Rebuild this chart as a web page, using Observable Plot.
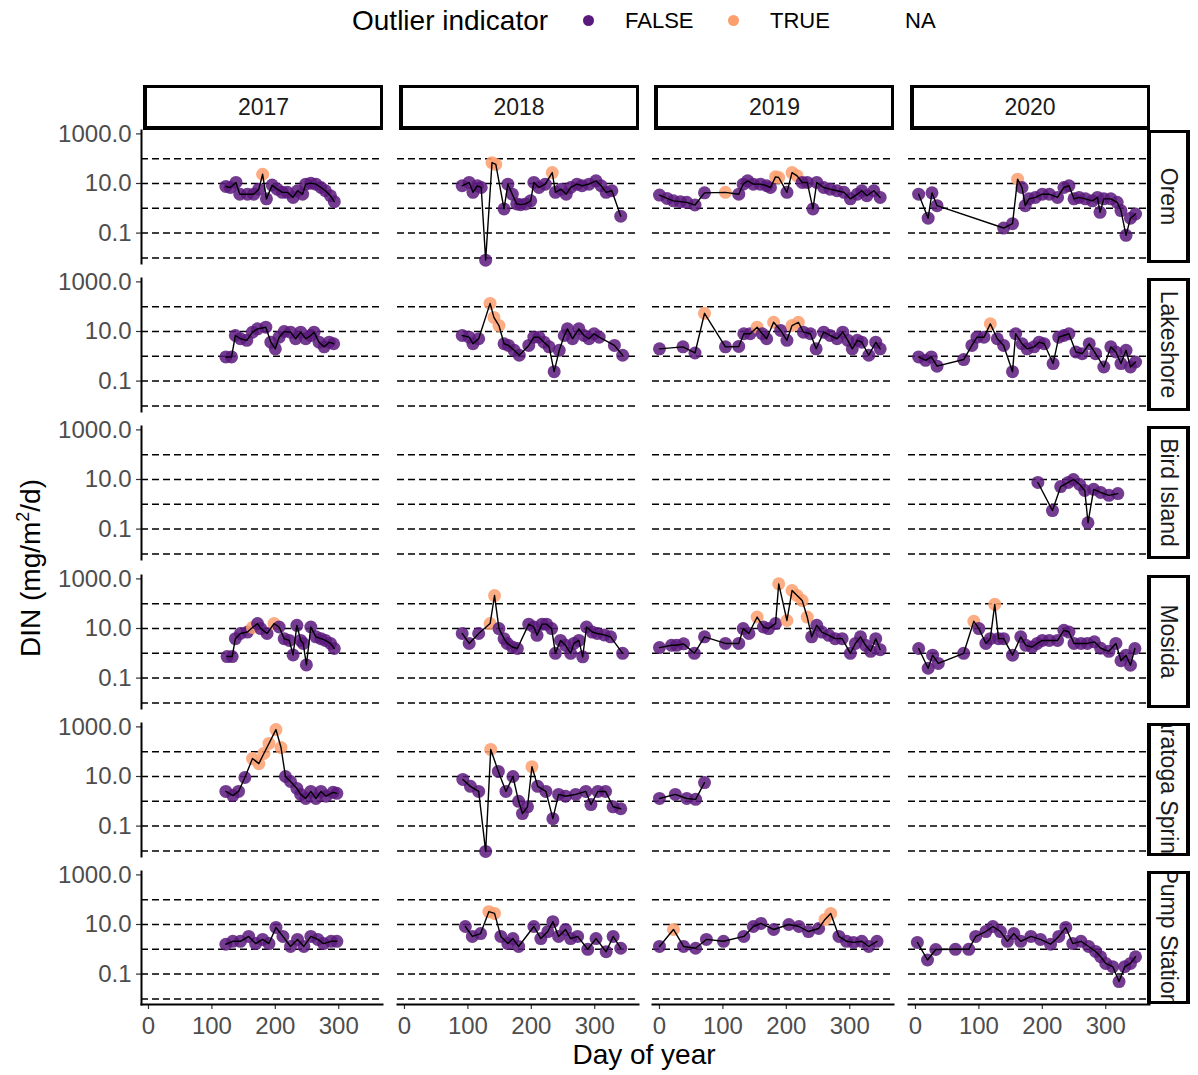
<!DOCTYPE html>
<html>
<head>
<meta charset="utf-8">
<script src="https://cdn.jsdelivr.net/npm/d3@7"></script>
<script src="https://cdn.jsdelivr.net/npm/@observablehq/plot@0.6"></script>
<style>
  body { margin: 0; background: #fff; font-family: "Liberation Sans", Arial, sans-serif; }
  #root { position: relative; width: 1198px; height: 1075px; overflow: hidden; }
  .abs { position: absolute; }
  .strip { position: absolute; box-sizing: border-box; border: 3px solid #000; background: #fff;
           display: flex; align-items: center; justify-content: center; overflow: hidden;
           font-size: 23px; color: #1a1a1a; }
  .strip.top { border-left-width: 4px; border-bottom-width: 4px; }
  .strip.side { border-left-width: 4px; border-right-width: 4px; }
  .strip.side span { transform: rotate(90deg); white-space: nowrap; }
  .legend-text { position: absolute; white-space: nowrap; color: #000; }
  .legend-dot { position: absolute; width: 11px; height: 11px; border-radius: 50%; }
</style>
</head>
<body>
<div id="root"></div>
<script>
// ---- Data: daily DIN flux (mg/m²/d) by site and year; entries are [day of year, DIN, outlier flag]
const years = [2017, 2018, 2019, 2020];
const sites = ["Orem", "Lakeshore", "Bird Island", "Mosida", "Saratoga Springs", "Pump Station"];
const outlierLevels = ["FALSE", "TRUE"];
const yTicks = [1000, 10, 0.1];
const xTicks = [0, 100, 200, 300];
const refLines = [100, 10, 1, 0.1, 0.01];

const orem2017 = [[122,7.6],[129,6.9],[138,11],[144,3.7],[156,3.7],[166,3.7],[174,5.9],[180,23.6,1],[186,2.4],[195,8.6],[203,5.9],[211,4.4],[219,4.4],[228,2.75],[235,5.1],[243,3.7],[248,9.4],[256,10.3],[264,9.4],[272,6.9],[279,5.1],[287,3.2],[293,1.85]];
const orem2018 = [[91,8.1],[102,11],[108,4.4],[115,8.1],[121,6.9],[128,0.0081],[138,69,1],[144,59,1],[157,0.94],[163,9.4],[170,3.7],[177,1.5],[183,1.4],[191,1.5],[199,2.0],[204,11],[212,6.9],[222,9.4],[233,27.5,1],[238,4.4],[247,5.9],[255,3.7],[262,6.9],[272,9.4],[280,8.1],[291,9.4],[302,12.8],[310,8.1],[318,4.4],[327,5.1],[341,0.48]];
const orem2019 = [[0,3.4],[12,2.5],[22,2.0],[33,1.85],[43,1.74],[56,1.36],[71,4.2],[104,4.4,1],[125,3.7],[132,9.4],[139,12.8],[148,9.4],[159,9.4],[169,8.1],[175,6.9],[183,18.5,1],[188,17.4,1],[201,4.4],[209,27.5,1],[217,20.3,1],[225,11],[233,11],[242,0.94],[248,11],[259,6.9],[269,5.9],[280,5.1],[291,4.4],[301,2.4],[312,3.7],[319,5.1],[327,3.2],[338,5.1],[348,2.75]];
const orem2020 = [[5,3.7],[20,0.4],[26,4.2],[34,1.28],[139,0.16],[153,0.24],[161,14.9,1],[168,6.9],[173,1.28],[179,2.4],[189,2.75],[200,3.7],[211,3.7],[224,2.75],[234,6.9],[242,8.1],[250,2.4],[258,2.75],[268,2.4],[279,2.0],[287,2.75],[291,0.69],[297,2.4],[308,2.4],[318,1.74],[324,0.81],[332,0.081],[339,0.4],[347,0.59]];

const lakeshore2017 = [[122,0.94],[131,0.94],[137,6.9],[145,5.1],[155,4.4],[164,9.4],[172,12.8],[185,14.9],[193,3.7],[200,2.0],[206,5.9],[214,10],[224,9.4],[232,5.1],[240,9.4],[248,5.1],[256,6.9],[261,9.4],[269,3.7],[277,2.4],[285,3.7],[292,3.2]];
const lakeshore2018 = [[91,6.9],[102,5.9],[108,3.2],[117,5.1],[135,136,1],[141,37,1],[149,17.4,1],[157,3.2],[164,2.75],[173,1.74],[181,1.1],[196,2.75],[204,5.9],[212,5.9],[220,3.7],[228,2.4],[236,0.24],[244,1.74],[252,6.9],[257,12.8],[265,5.1],[275,12.8],[283,6.9],[291,5.1],[299,8.1],[307,5.9],[331,2.75],[344,1.1]];
const lakeshore2019 = [[0,2.0],[37,2.4],[56,1.36],[71,54,1],[104,2.4],[125,2.5],[133,8.1],[143,8.1],[154,14.9,1],[162,8.1],[169,5.1],[180,23.6,1],[191,11],[201,4.4],[209,17.4,1],[219,23.6,1],[227,9.4],[238,8.1],[247,2.0],[259,9.4],[269,6.9],[280,5.1],[289,9.4],[297,4.4],[304,2.0],[312,4.4],[319,3.7],[330,1.1],[341,3.7],[348,2.0]];
const lakeshore2020 = [[5,0.94],[16,0.69],[25,0.94],[34,0.4],[76,0.74],[89,2.75],[97,5.9],[108,5.9],[118,20.3,1],[129,5.1],[139,2.75],[153,0.24],[158,8.1],[168,3.2],[176,2.0],[187,2.4],[195,3.7],[203,3.2],[217,0.51],[226,5.9],[234,6.9],[242,8.1],[253,1.49],[263,1.28],[274,3.2],[284,1.28],[297,0.37],[308,2.4],[316,1.49],[324,0.51],[332,1.74],[339,0.37],[347,0.59]];

const birdIsland2020 = [[193,7.6],[216,0.56],[229,5.2],[241,7.6],[249,10],[259,6.3],[267,3.6],[272,0.18],[281,4.0],[292,3.0],[305,2.3],[319,2.7]];

const mosida2017 = [[124,0.74],[132,0.74],[137,3.9],[145,6.3],[156,7.2],[164,11,1],[172,15.8],[177,9.9],[187,6.3],[198,15.8,1],[206,11.5],[214,3.9],[222,3.3],[228,0.86],[234,13.4],[240,3.3],[244,2.5],[249,0.34],[256,11.5],[264,4.6],[272,3.9],[279,3.3],[287,2.5],[293,1.56]];
const mosida2018 = [[91,6.3],[102,2.5],[117,6.3],[135,15.8,1],[142,213,1],[149,9.9],[157,3.9],[162,2.5],[170,1.8],[178,1.56],[196,15],[204,11.5],[209,5.3],[217,15],[224,15],[232,9.9],[238,1.0],[246,3.3],[254,2.1],[262,1.0],[267,2.5],[275,3.3],[281,0.72],[287,11.5],[296,7.2],[304,6.3],[315,5.5],[325,4.6],[344,1.0]];
const mosida2019 = [[0,1.7],[19,2.1],[27,2.1],[38,2.4],[55,1.0],[71,4.6],[104,2.5],[125,2.5],[132,9.9],[141,6.3],[154,29,1],[164,11.5],[172,9.9],[183,15.8],[188,630,1],[201,21,1],[209,340,1],[217,213,1],[225,134,1],[233,29,1],[240,4.6],[248,13.4],[256,7.2],[267,5.3],[277,3.9],[288,3.9],[301,1.0],[309,2.5],[317,4.6],[325,2.1],[333,1.2],[341,3.9],[348,1.4]];
const mosida2020 = [[5,1.56],[20,0.25],[27,0.84],[36,0.39],[76,1.0],[92,19.5,1],[100,9.9],[111,2.5],[118,3.9],[125,94,1],[131,3.9],[139,3.9],[153,0.84],[166,4.6],[174,2.1],[184,1.8],[192,2.5],[200,3.3],[211,3.3],[224,3.3],[234,8.5],[242,7.2],[250,2.5],[261,2.5],[271,2.5],[282,2.9],[292,1.6],[305,1.2],[316,2.5],[324,0.5],[332,0.84],[339,0.33],[346,1.56]];

const saratoga2017 = [[122,2.5],[133,1.7],[142,2.5],[152,9.1],[164,53,1],[174,33,1],[182,85,1],[190,215,1],[201,780,1],[209,147,1],[216,10],[224,6.3],[234,3.3],[240,1.9],[248,1.3],[256,2.5],[264,1.3],[272,2.5],[280,1.6],[291,2.3],[297,2.1]];
const saratoga2018 = [[92,7.6],[104,4.0],[117,2.5],[128,0.0095],[136,123,1],[148,16],[160,2.5],[171,10],[180,1.0],[186,0.32],[194,0.6],[201,25,1],[210,4.0],[223,2.5],[234,0.2],[243,1.9],[254,1.6],[270,1.9],[286,2.5],[294,0.74],[305,2.5],[317,2.5],[329,0.6],[341,0.5]];
const saratoga2019 = [[0,1.3],[25,1.9],[43,1.3],[57,1.2],[71,5.7]];

const pump2017 = [[122,1.6],[133,2.1],[145,2.1],[158,3.3],[169,1.7],[180,2.5],[190,1.7],[201,7.6],[212,3.3],[224,1.3],[235,2.5],[245,1.3],[256,3.3],[267,2.5],[276,1.7],[288,2.1],[297,2.1]];
const pump2018 = [[96,8.3],[107,3.3],[120,4.3],[133,33,1],[142,28,1],[152,3.3],[163,1.7],[171,2.7],[180,1.3],[204,8.3],[215,2.7],[226,5.2],[234,13],[243,3.3],[254,6.3],[262,2.7],[273,3.3],[289,1.0],[302,2.7],[318,0.8],[329,3.3],[341,1.1]];
const pump2019 = [[0,1.3],[22,6.3,1],[38,1.3],[57,1.1],[74,2.5],[101,2.1],[133,3.3],[148,8.3],[160,11],[180,6.3],[204,10],[220,8.3],[235,5.2],[251,6.9],[261,16,1],[270,28,1],[283,3.3],[295,2.1],[306,1.9],[319,2.1],[330,1.3],[343,2.1]];
const pump2020 = [[3,1.9],[19,0.37],[32,0.98],[63,1.0],[84,1.0],[95,3.3],[111,5.2],[122,8.3],[134,5.2],[145,2.1],[155,4.3],[166,2.1],[182,3.3],[197,2.5],[213,1.6],[226,3.3],[237,7.6],[248,1.7],[261,2.1],[273,1.3],[284,0.82],[292,0.5],[300,0.27],[311,0.2],[321,0.05],[330,0.2],[339,0.27],[347,0.5]];

const series = {
  "Orem": {2017: orem2017, 2018: orem2018, 2019: orem2019, 2020: orem2020},
  "Lakeshore": {2017: lakeshore2017, 2018: lakeshore2018, 2019: lakeshore2019, 2020: lakeshore2020},
  "Bird Island": {2020: birdIsland2020},
  "Mosida": {2017: mosida2017, 2018: mosida2018, 2019: mosida2019, 2020: mosida2020},
  "Saratoga Springs": {2017: saratoga2017, 2018: saratoga2018, 2019: saratoga2019},
  "Pump Station": {2017: pump2017, 2018: pump2018, 2019: pump2019, 2020: pump2020}
};

// ---- Layout
const PURPLE = "#5a1a7d";
const ORANGE = "#fb9f6e";
const PANEL_X0 = 141, PANEL_DX = 255.5, PW = 241;
const PANEL_Y0 = 130, PANEL_DY = 148.2, PH = 133;
const ML = 100, MB = 50;

const root = document.getElementById("root");

function rowsFor(site, year) {
  const raw = (series[site] && series[site][year]) || [];
  return raw.map(([day, din, flag]) => ({day, din, outlier: flag ? "TRUE" : "FALSE"}));
}

function panel(rows, showY, showX) {
  const ml = showY ? ML : 0, mb = showX ? MB : 0;
  return Plot.plot({
    width: PW + ml, height: PH + mb,
    marginLeft: ml, marginRight: 0, marginTop: 0, marginBottom: mb,
    x: {domain: [-11, 369], axis: null},
    y: {type: "log", domain: [Math.pow(10, -2.226), Math.pow(10, 3.137)], axis: null},
    color: {domain: outlierLevels, range: [PURPLE, ORANGE]},
    style: {overflow: "visible", background: "transparent", fontFamily: "Liberation Sans, Arial, sans-serif"},
    marks: [
      Plot.ruleY(refLines, {stroke: "#000", strokeWidth: 1.5, strokeDasharray: "7,4"}),
      Plot.dot(rows, {x: "day", y: "din", fill: "outlier", r: 6.5, fillOpacity: 0.85}),
      Plot.line(rows, {x: "day", y: "din", stroke: "#000", strokeWidth: 1.4}),
      showY ? Plot.axisY({ticks: yTicks, tickFormat: d => d.toFixed(1), tickSize: 5, tickPadding: 5,
                          fontSize: 24, fill: "#4d4d4d", stroke: "#333", strokeWidth: 1.2, label: null}) : null,
      showY ? Plot.frame({anchor: "left", stroke: "#000", strokeWidth: 2}) : null,
      showX ? Plot.axisX({ticks: xTicks, tickSize: 5, tickPadding: 7, fontSize: 24,
                          fill: "#4d4d4d", stroke: "#333", strokeWidth: 1.2, label: null}) : null,
      showX ? Plot.frame({anchor: "bottom", stroke: "#000", strokeWidth: 2}) : null
    ]
  });
}

sites.forEach((site, r) => {
  years.forEach((year, c) => {
    const showY = c === 0, showX = r === sites.length - 1;
    const svg = panel(rowsFor(site, year), showY, showX);
    svg.classList.add("abs");
    svg.style.left = (PANEL_X0 + c * PANEL_DX - (showY ? ML : 0)) + "px";
    svg.style.top = (PANEL_Y0 + r * PANEL_DY) + "px";
    root.appendChild(svg);
  });
});

// Column strips (years)
years.forEach((year, c) => {
  const s = document.createElement("div");
  s.className = "strip top";
  s.style.left = (PANEL_X0 + c * PANEL_DX + 2) + "px";
  s.style.top = "85px";
  s.style.width = (PW - 1) + "px";
  s.style.height = "45px";
  s.textContent = year;
  root.appendChild(s);
});

// Row strips (sites); long names are clipped by the strip box
sites.forEach((site, r) => {
  const s = document.createElement("div");
  s.className = "strip side";
  s.style.left = "1147px";
  s.style.top = (PANEL_Y0 + r * PANEL_DY) + "px";
  s.style.width = "43px";
  s.style.height = PH + "px";
  const t = document.createElement("span");
  t.textContent = site;
  s.appendChild(t);
  root.appendChild(s);
});

// Axis titles
const xt = document.createElement("div");
xt.className = "legend-text";
xt.style.cssText += "left:0;width:1288px;text-align:center;top:1039px;font-size:28px;";
xt.textContent = "Day of year";
root.appendChild(xt);

const yt = document.createElement("div");
yt.className = "legend-text";
yt.style.cssText += "left:30px;top:568px;font-size:28px;transform:translate(-50%,-50%) rotate(-90deg);";
yt.innerHTML = "DIN (mg/m<sup style='font-size:18px'>2</sup>/d)";
root.appendChild(yt);

// Legend
function legendText(txt, x, size) {
  const d = document.createElement("div");
  d.className = "legend-text";
  d.style.left = x + "px";
  d.style.top = (21 - size * 0.58) + "px";
  d.style.fontSize = size + "px";
  d.textContent = txt;
  root.appendChild(d);
}
legendText("Outlier indicator", 352, 28);
[[PURPLE, 588], [ORANGE, 733]].forEach(([col, x]) => {
  const d = document.createElement("div");
  d.className = "legend-dot";
  d.style.left = (x - 5.5) + "px";
  d.style.top = "14.5px";
  d.style.background = col;
  root.appendChild(d);
});
legendText("FALSE", 625, 22);
legendText("TRUE", 770, 22);
legendText("NA", 905, 22);
</script>
</body>
</html>
